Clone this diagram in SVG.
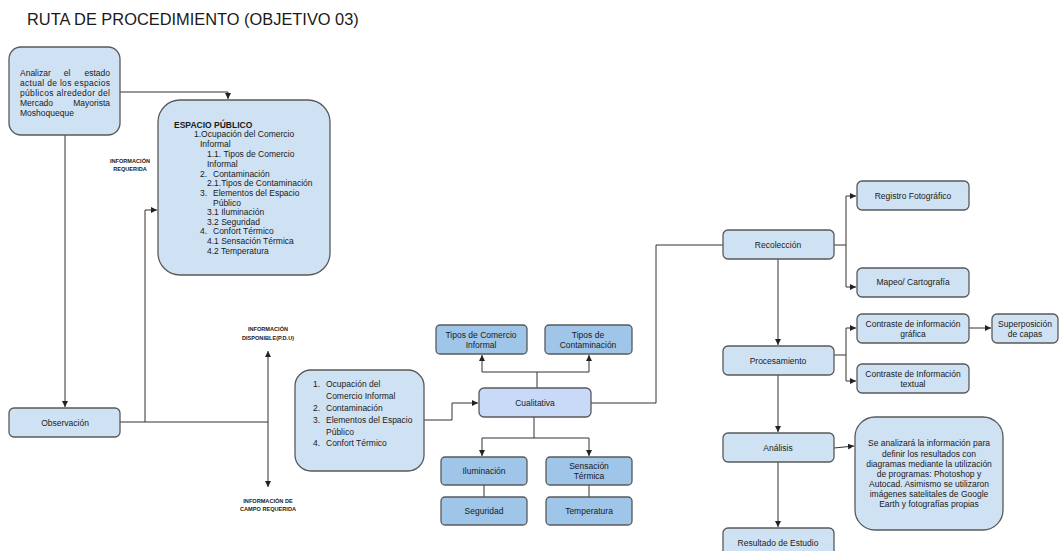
<svg xmlns="http://www.w3.org/2000/svg" width="1060" height="551" viewBox="0 0 1060 551">
<style>
text{font-family:"Liberation Sans",Arial,sans-serif;fill:#1a1a1a}
.t{font-size:8.5px}
.c{text-anchor:middle}
.lbl{font-size:5.6px;font-weight:bold;text-anchor:middle}
.n{fill:#cfe2f3;stroke:#595959;stroke-width:1.3}
.d{fill:#9fc5e8;stroke:#595959;stroke-width:1.3}
.q{fill:#c9daf8;stroke:#595959;stroke-width:1.3}
.e{fill:none;stroke:#333;stroke-width:1}
</style>
<defs>
<marker id="a" markerUnits="userSpaceOnUse" markerWidth="7" markerHeight="6" refX="6" refY="3" orient="auto">
<path d="M0,0 L6,3 L0,6 z" fill="#222"/>
</marker>
</defs>
<rect width="1060" height="551" fill="#fff"/>
<text x="27" y="25" style="font-size:16.4px">RUTA DE PROCEDIMIENTO (OBJETIVO 03)</text>

<g id="connectors">
<path class="e" d="M120,92 H228 V99" marker-end="url(#a)"/>
<path class="e" d="M65,135 V407" marker-end="url(#a)"/>
<path class="e" d="M120,422 H268"/>
<path class="e" d="M145,422 V210 H157" marker-end="url(#a)"/>
<path class="e" d="M268,422 V351" marker-end="url(#a)"/>
<path class="e" d="M268,422 V487" marker-end="url(#a)"/>
<path class="e" d="M424,420 H452 V403 H478" marker-end="url(#a)"/>
<path class="e" d="M537,388 V372 M482,372 H589"/>
<path class="e" d="M482,372 V355" marker-end="url(#a)"/>
<path class="e" d="M589,372 V355" marker-end="url(#a)"/>
<path class="e" d="M534,417 V438 M482,438 H589"/>
<path class="e" d="M482,438 V456" marker-end="url(#a)"/>
<path class="e" d="M589,438 V456" marker-end="url(#a)"/>
<path class="e" d="M484,485 V497 M589,485 V497"/>
<path class="e" d="M591,403 H656 V245 H723"/>
<path class="e" d="M834,245 H846 M846,196 V287"/>
<path class="e" d="M846,196 H856" marker-end="url(#a)"/>
<path class="e" d="M846,287 H856" marker-end="url(#a)"/>
<path class="e" d="M778,259 V345" marker-end="url(#a)"/>
<path class="e" d="M834,355 H846 M846,328 V381"/>
<path class="e" d="M846,328 H856" marker-end="url(#a)"/>
<path class="e" d="M846,381 H856" marker-end="url(#a)"/>
<path class="e" d="M969,328 H991" marker-end="url(#a)"/>
<path class="e" d="M778,375 V432" marker-end="url(#a)"/>
<path class="e" d="M834,448 L854,446" marker-end="url(#a)"/>
<path class="e" d="M778,462 V527" marker-end="url(#a)"/>
</g>

<g id="lbl-requerida">
<text class="lbl" x="130" y="163">INFORMACIÓN</text>
<text class="lbl" x="130" y="171">REQUERIDA</text>
</g>
<g id="lbl-disponible">
<text class="lbl" x="268" y="331">INFORMACIÓN</text>
<text class="lbl" x="268" y="340">DISPONIBLE(P.D.U)</text>
</g>
<g id="lbl-campo">
<text class="lbl" x="268" y="503">INFORMACIÓN DE</text>
<text class="lbl" x="268" y="511">CAMPO REQUERIDA</text>
</g>

<g id="n-analizar">
<rect class="n" x="9" y="47" width="111" height="88" rx="12"/>
<text class="t" x="20" y="76">Analizar</text>
<text class="t c" x="67" y="76">el</text>
<text class="t" x="110" y="76" text-anchor="end">estado</text>
<text class="t" x="20" y="86" textLength="90" lengthAdjust="spacing">actual de los espacios</text>
<text class="t" x="20" y="96" textLength="90" lengthAdjust="spacing">públicos alrededor del</text>
<text class="t" x="20" y="106">Mercado</text>
<text class="t" x="110" y="106" text-anchor="end">Mayorista</text>
<text class="t" x="20" y="116">Moshoqueque</text>
</g>

<g id="n-espacio">
<rect class="n" x="158" y="100" width="172" height="175" rx="22"/>
<text class="t" x="174" y="128" font-weight="bold">ESPACIO PÚBLICO</text>
<text class="t" x="194" y="137">1.Ocupación del Comercio</text>
<text class="t" x="200" y="147">Informal</text>
<text class="t" x="207" y="157">1.1. Tipos de Comercio</text>
<text class="t" x="207" y="167">Informal</text>
<text class="t" x="200" y="177">2.</text><text class="t" x="213" y="177">Contaminación</text>
<text class="t" x="207" y="186">2.1.Tipos de Contaminación</text>
<text class="t" x="200" y="196">3.</text><text class="t" x="213" y="196">Elementos del Espacio</text>
<text class="t" x="213" y="206">Público</text>
<text class="t" x="207" y="215">3.1 Iluminación</text>
<text class="t" x="207" y="225">3.2 Seguridad</text>
<text class="t" x="200" y="234">4.</text><text class="t" x="213" y="234">Confort Térmico</text>
<text class="t" x="207" y="244">4.1 Sensación Térmica</text>
<text class="t" x="207" y="254">4.2 Temperatura</text>
</g>

<g id="n-observacion">
<rect class="n" x="9" y="408" width="111" height="29" rx="5"/>
<text class="t c" x="65" y="426">Observación</text>
</g>

<g id="n-lista">
<rect class="n" x="295" y="370" width="129" height="101" rx="16"/>
<text class="t" x="313" y="387">1.</text><text class="t" x="326" y="387">Ocupación del</text>
<text class="t" x="326" y="399">Comercio Informal</text>
<text class="t" x="313" y="411">2.</text><text class="t" x="326" y="411">Contaminación</text>
<text class="t" x="313" y="423">3.</text><text class="t" x="326" y="423">Elementos del Espacio</text>
<text class="t" x="326" y="435">Público</text>
<text class="t" x="313" y="446">4.</text><text class="t" x="326" y="446">Confort Térmico</text>
</g>

<g id="n-cualitativa">
<rect class="q" x="479" y="388" width="112" height="29" rx="5"/>
<text class="t c" x="535" y="406">Cualitativa</text>
</g>
<g id="n-tipos-comercio">
<rect class="d" x="436" y="325" width="91" height="29" rx="4"/>
<text class="t c" x="481" y="338">Tipos de Comercio</text>
<text class="t c" x="481" y="348">Informal</text>
</g>
<g id="n-tipos-contaminacion">
<rect class="d" x="545" y="325" width="87" height="29" rx="4"/>
<text class="t c" x="588" y="338">Tipos de</text>
<text class="t c" x="588" y="348">Contaminación</text>
</g>
<g id="n-iluminacion">
<rect class="d" x="441" y="457" width="86" height="28" rx="4"/>
<text class="t c" x="484" y="474">Iluminación</text>
</g>
<g id="n-sensacion">
<rect class="d" x="546" y="457" width="86" height="28" rx="4"/>
<text class="t c" x="589" y="469">Sensación</text>
<text class="t c" x="589" y="479">Térmica</text>
</g>
<g id="n-seguridad">
<rect class="d" x="441" y="497" width="86" height="28" rx="4"/>
<text class="t c" x="484" y="514">Seguridad</text>
</g>
<g id="n-temperatura">
<rect class="d" x="546" y="497" width="86" height="28" rx="4"/>
<text class="t c" x="589" y="514">Temperatura</text>
</g>

<g id="n-recoleccion">
<rect class="n" x="723" y="230" width="111" height="29" rx="5"/>
<text class="t c" x="778" y="248">Recolección</text>
</g>
<g id="n-registro">
<rect class="n" x="857" y="181" width="112" height="29" rx="5"/>
<text class="t c" x="913" y="199">Registro Fotográfico</text>
</g>
<g id="n-mapeo">
<rect class="n" x="857" y="268" width="112" height="29" rx="5"/>
<text class="t c" x="913" y="285">Mapeo/ Cartografía</text>
</g>
<g id="n-procesamiento">
<rect class="n" x="723" y="346" width="111" height="29" rx="5"/>
<text class="t c" x="778" y="364">Procesamiento</text>
</g>
<g id="n-contraste-grafica">
<rect class="n" x="857" y="314" width="112" height="29" rx="5"/>
<text class="t c" x="913" y="327">Contraste de información</text>
<text class="t c" x="913" y="337">gráfica</text>
</g>
<g id="n-contraste-textual">
<rect class="n" x="857" y="364" width="112" height="29" rx="5"/>
<text class="t c" x="913" y="377">Contraste de Información</text>
<text class="t c" x="913" y="387">textual</text>
</g>
<g id="n-superposicion">
<rect class="n" x="992" y="314" width="66" height="29" rx="5"/>
<text class="t c" x="1025" y="327">Superposición</text>
<text class="t c" x="1025" y="337">de capas</text>
</g>
<g id="n-analisis">
<rect class="n" x="723" y="433" width="111" height="29" rx="5"/>
<text class="t c" x="778" y="451">Análisis</text>
</g>
<g id="n-nota">
<rect class="n" x="855" y="417" width="148" height="113" rx="20"/>
<text class="t c" x="929" y="446">Se analizará la información para</text>
<text class="t c" x="929" y="457">definir los resultados con</text>
<text class="t c" x="929" y="467">diagramas mediante la utilización</text>
<text class="t c" x="929" y="477">de programas: Photoshop y</text>
<text class="t c" x="929" y="487">Autocad. Asimismo se utilizaron</text>
<text class="t c" x="929" y="497">imágenes satelitales de Google</text>
<text class="t c" x="929" y="507">Earth y fotografías propias</text>
</g>
<g id="n-resultado">
<rect class="n" x="723" y="528" width="111" height="40" rx="5"/>
<text class="t c" x="778" y="546">Resultado de Estudio</text>
</g>
</svg>
